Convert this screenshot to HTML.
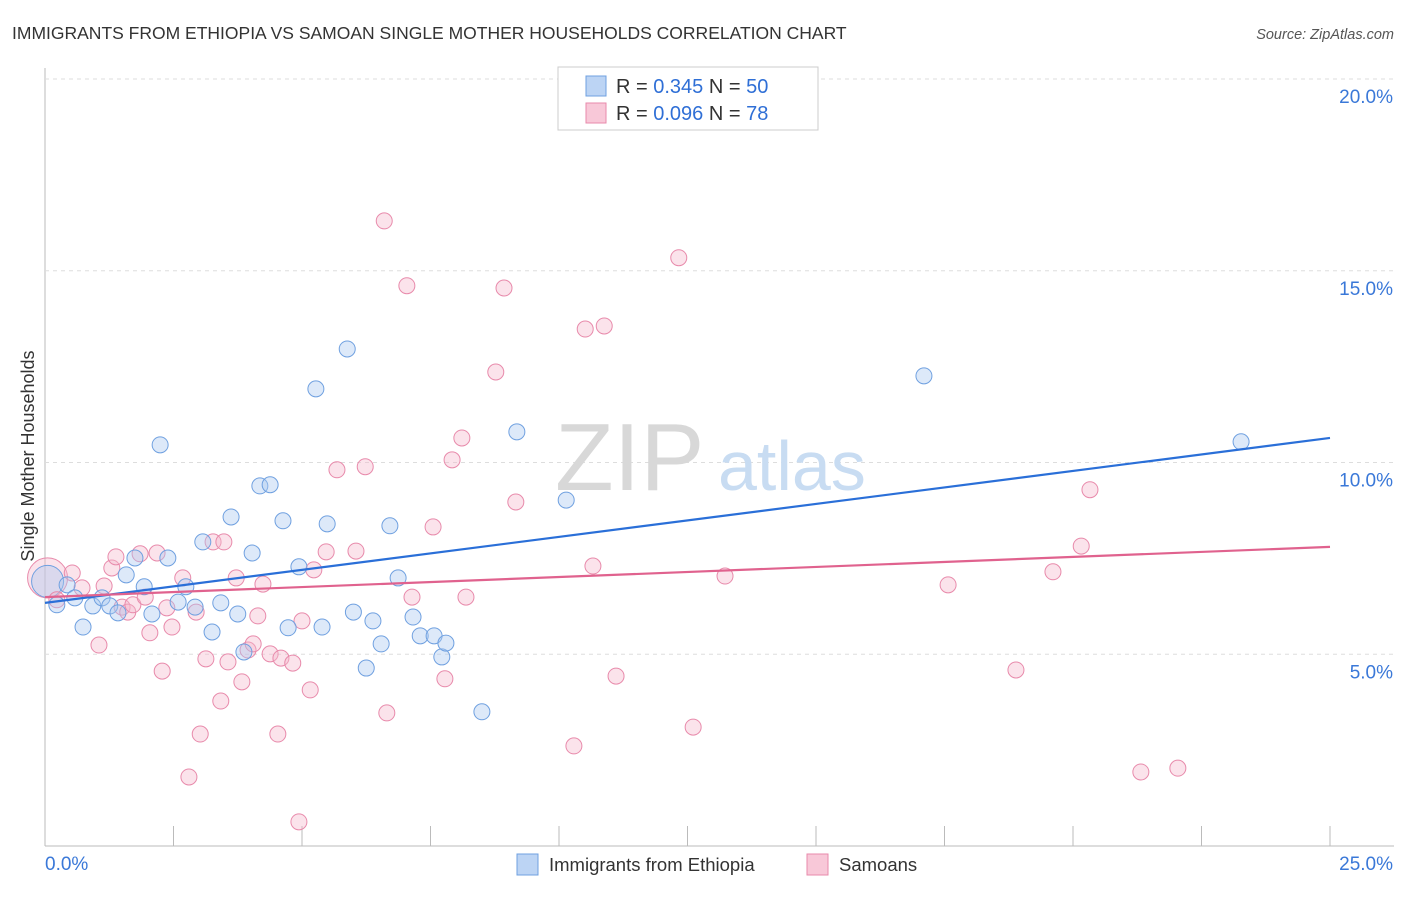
<!DOCTYPE html>
<html><head><meta charset="utf-8"><style>
body{margin:0;background:#fff;font-family:"Liberation Sans",sans-serif;}
svg text{font-family:"Liberation Sans",sans-serif;}
</style></head><body>
<svg id="chart" width="1406" height="892">
<text x="12" y="39" font-size="17.5" fill="#333">IMMIGRANTS FROM ETHIOPIA VS SAMOAN SINGLE MOTHER HOUSEHOLDS CORRELATION CHART</text>
<text x="1394" y="39" font-size="14.5" fill="#555" font-style="italic" text-anchor="end">Source: ZipAtlas.com</text>
<text transform="translate(34,456) rotate(-90)" font-size="18" fill="#333" text-anchor="middle">Single Mother Households</text>
<g id="grid"></g>
<text x="555" y="490" font-size="96" fill="#d8d8d8" font-family="Liberation Serif">ZIP</text>
<text x="718" y="490" font-size="70" fill="#c8dcf2">atlas</text>
<g id="points"></g>
<g id="lines"></g>
<g>
<rect x="558" y="67" width="260" height="63" fill="#fff" stroke="#ccc"/>
<rect x="586" y="76" width="20" height="20" fill="#bcd4f4" stroke="#6fa0e0"/>
<text x="616" y="93" font-size="20" fill="#333">R = <tspan fill="#2f6fd6">0.345</tspan>   N = <tspan fill="#2f6fd6">50</tspan></text>
<rect x="586" y="103" width="20" height="20" fill="#f8c8d8" stroke="#e88aab"/>
<text x="616" y="120" font-size="20" fill="#333">R = <tspan fill="#2f6fd6">0.096</tspan>   N = <tspan fill="#2f6fd6">78</tspan></text>
</g>
<g>
<rect x="517" y="854" width="21" height="21" fill="#bcd4f4" stroke="#6fa0e0"/>
<text x="549" y="871" font-size="18.5" fill="#333">Immigrants from Ethiopia</text>
<rect x="807" y="854" width="21" height="21" fill="#f8c8d8" stroke="#e88aab"/>
<text x="839" y="871" font-size="18.5" fill="#333">Samoans</text>
</g>
</svg>
<script>
const blueX=[0.23,0.43,0.58,0.74,0.93,1.11,1.26,1.42,1.58,1.75,1.93,2.08,2.24,2.39,2.59,2.74,2.92,3.07,3.25,3.42,3.62,3.75,3.87,4.03,4.18,4.38,4.63,4.73,4.94,5.27,5.39,5.49,5.88,6.00,6.25,6.38,6.54,6.71,6.87,7.16,7.30,7.57,7.72,7.80,8.50,9.18,10.14,17.10,23.27];
const blueY=[6.29,6.81,6.47,5.71,6.26,6.47,6.26,6.08,7.07,7.51,6.76,6.05,10.46,7.51,6.36,6.76,6.23,7.93,5.58,6.34,8.58,6.05,5.06,7.64,9.39,9.42,8.48,5.69,7.28,11.92,5.71,8.40,12.96,6.10,4.64,5.87,5.27,8.35,6.99,5.97,5.48,5.48,4.93,5.29,3.50,10.80,9.02,12.26,10.54];
const pinkX=[0.23,0.53,0.72,1.05,1.15,1.30,1.38,1.50,1.61,1.71,1.85,1.95,2.04,2.18,2.28,2.37,2.47,2.68,2.80,2.94,3.02,3.13,3.27,3.42,3.48,3.56,3.72,3.83,3.95,4.05,4.14,4.24,4.38,4.53,4.59,4.82,4.94,5.00,5.16,5.23,5.47,5.68,6.05,6.23,6.60,6.65,7.04,7.14,7.55,7.78,7.92,8.11,8.19,8.77,8.93,9.16,10.29,10.51,10.66,10.88,11.11,12.33,12.61,13.23,17.57,18.89,19.61,20.16,20.33,21.32,22.04];
const pinkY=[6.42,7.12,6.73,5.24,6.78,7.25,7.54,6.23,6.10,6.29,7.62,6.49,5.56,7.64,4.56,6.21,5.71,6.99,1.80,6.10,2.92,4.88,7.93,3.78,7.93,4.80,6.99,4.28,5.11,5.27,6.00,6.83,5.01,2.92,4.90,4.77,0.63,5.87,4.07,7.20,7.67,9.81,7.69,9.89,16.30,3.47,14.61,6.49,8.32,4.36,10.07,10.64,6.49,12.36,14.55,8.97,2.61,13.48,7.30,13.56,4.43,15.34,3.10,7.04,6.81,4.59,7.15,7.82,9.29,1.93,2.03];
const blueLine=[6.34,10.64];
const pinkLine=[6.49,7.80];
const xTicks=[0,2.5,5,7.5,10,12.5,15,17.5,20,22.5,25];
const yTicks=[5,10,15,20];
const yTickLabels=["5.0%","10.0%","15.0%","20.0%"];
const xs=v=>45+v*(1330-45)/25;
const ys=v=>846-v*(846-79)/20;
const NS="http://www.w3.org/2000/svg";
function mk(tag,attrs,parent){const e=document.createElementNS(NS,tag);for(const k in attrs)e.setAttribute(k,attrs[k]);parent.appendChild(e);return e;}
const grid=document.getElementById('grid');
mk('line',{x1:45,y1:68,x2:45,y2:846,stroke:'#bbb'},grid);
mk('line',{x1:45,y1:846,x2:1394,y2:846,stroke:'#bbb'},grid);
yTicks.forEach((t,i)=>{
 const g=mk('line',{x1:45,y1:ys(t),x2:1394,y2:ys(t),stroke:'#ddd','stroke-dasharray':'4,4'},grid);
 
 
 const l=mk('text',{x:1393,y:ys(t)+24,'font-size':19,fill:'#3a78d8','text-anchor':'end'},grid);
 l.textContent=yTickLabels[i];
 
 
});
xTicks.forEach(t=>{
 const k=mk('line',{x1:xs(t),y1:826,x2:xs(t),y2:846,stroke:'#bbb'},grid);
 
 
});
const x0=mk('text',{x:45,y:870,'font-size':19,fill:'#3a78d8'},grid);x0.textContent="0.0%";


const x1=mk('text',{x:1393,y:870,'font-size':19,fill:'#3a78d8','text-anchor':'end'},grid);x1.textContent="25.0%";


const pts=document.getElementById('points');
let bg=mk('circle',{cx:xs(0.05),cy:ys(6.99),r:20,fill:'rgba(244,184,204,0.4)',stroke:'#e88aab','stroke-width':1},pts);


bg=mk('circle',{cx:xs(0.05),cy:ys(6.9),r:16,fill:'rgba(169,200,240,0.4)',stroke:'#6fa0e0','stroke-width':1},pts);


pinkX.forEach((v,i)=>{
 const c=mk('circle',{cx:xs(v),cy:ys(pinkY[i]),r:8,fill:'rgba(244,184,204,0.4)',stroke:'#e88aab','stroke-width':1},pts);
 
 
});
blueX.forEach((v,i)=>{
 const c=mk('circle',{cx:xs(v),cy:ys(blueY[i]),r:8,fill:'rgba(169,200,240,0.4)',stroke:'#6fa0e0','stroke-width':1},pts);
 
 
});
const lines=document.getElementById('lines');
const bl=mk('line',{x1:xs(0),y1:ys(blueLine[0]),x2:xs(25),y2:ys(blueLine[1]),stroke:'#2a6fd8','stroke-width':2.2},lines);


const pl=mk('line',{x1:xs(0),y1:ys(pinkLine[0]),x2:xs(25),y2:ys(pinkLine[1]),stroke:'#e0628e','stroke-width':2.2},lines);


</script>
</body></html>
